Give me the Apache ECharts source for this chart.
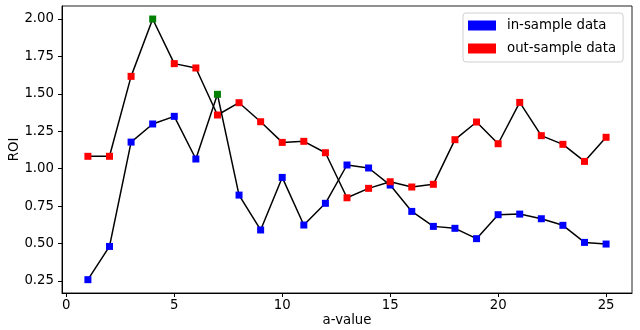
<!DOCTYPE html>
<html><head><meta charset="utf-8">
<script src="https://cdn.jsdelivr.net/npm/echarts@6/dist/echarts.min.js"></script>
<style>html,body{margin:0;padding:0;background:#fff}#c{width:640px;height:330px}</style>
</head><body><div id="c"></div>
<script>
const aValues = [1,2,3,4,5,6,7,8,9,10,11,12,13,14,15,16,17,18,19,20,21,22,23,24,25];
const inSample = [0.259,0.481,1.178,1.299,1.350,1.065,1.497,0.824,0.591,0.942,0.624,0.769,1.025,1.005,0.891,0.715,0.615,0.602,0.533,0.693,0.697,0.666,0.622,0.508,0.497];
const outSample = [1.083,1.083,1.617,2.000,1.702,1.673,1.359,1.441,1.314,1.176,1.183,1.107,0.806,0.869,0.913,0.878,0.896,1.194,1.312,1.167,1.443,1.221,1.163,1.049,1.210];
const xTicks = [0,5,10,15,20,25];
const yTicks = [0.25,0.50,0.75,1.00,1.25,1.50,1.75,2.00];
const seriesNames = ['in-sample data','out-sample data'];

const FONT = 'DejaVu Sans';
const FS = 13.3;
function build(vals){
  let mi = 0; vals.forEach((v,i)=>{ if(v>vals[mi]) mi=i; });
  return vals.map((v,i)=> i===mi ? {value:[aValues[i],v], itemStyle:{color:'#008000'}} : {value:[aValues[i],v]});
}
const chart = echarts.init(document.getElementById('c'), null, {renderer:'canvas'});
const tickStyle = {show:true,inside:false,length:4,lineStyle:{color:'#000',width:1}};
const axisCommon = {
  axisLine:{show:true,onZero:false,lineStyle:{color:'#000',width:1}},
  splitLine:{show:false},
  nameMoveOverlap:false,
  nameTextStyle:{fontFamily:FONT,fontSize:FS,color:'#000'}
};
chart.setOption({
  animation:false,
  backgroundColor:'#fff',
  grid:{left:62,top:6,right:8,bottom:37,outerBoundsMode:'none',containLabel:false,show:true,borderColor:'#222',borderWidth:1,backgroundColor:'#fff'},
  legend:{
    orient:'vertical', left:463, top:13,
    data: seriesNames,
    icon:'rect', itemWidth:28, itemHeight:10, itemGap:10,
    padding:[6,7,7,5],
    borderColor:'#d0d0d0', borderWidth:1, borderRadius:3, backgroundColor:'#fff',
    textStyle:{fontFamily:FONT,fontSize:FS,color:'#000',padding:[0,0,0,6]}
  },
  xAxis:Object.assign({}, axisCommon, {
    type:'value', min:-0.2, max:26.2,
    name:'a-value', nameLocation:'middle', nameGap:21,
    axisLabel:{customValues:xTicks, fontFamily:FONT, fontSize:FS, color:'#000', margin:6},
    axisTick:Object.assign({}, tickStyle, {customValues:xTicks})
  }),
  yAxis:Object.assign({}, axisCommon, {
    type:'value', min:0.17, max:2.087,
    name:'ROI', nameLocation:'middle', nameGap:41,
    axisLabel:{customValues:yTicks, fontFamily:FONT, fontSize:FS, color:'#000', margin:8,
      formatter:v=>Number(v).toFixed(2)},
    axisTick:Object.assign({}, tickStyle, {customValues:yTicks})
  }),
  series:[
    {name:seriesNames[0], type:'line', data:build(inSample), symbol:'rect', symbolSize:7,
     itemStyle:{color:'#0000ff'}, lineStyle:{color:'#000',width:1.5}, z:2},
    {name:seriesNames[1], type:'line', data:build(outSample), symbol:'rect', symbolSize:7,
     itemStyle:{color:'#ff0000'}, lineStyle:{color:'#000',width:1.5}, z:3}
  ]
});
</script></body></html>
